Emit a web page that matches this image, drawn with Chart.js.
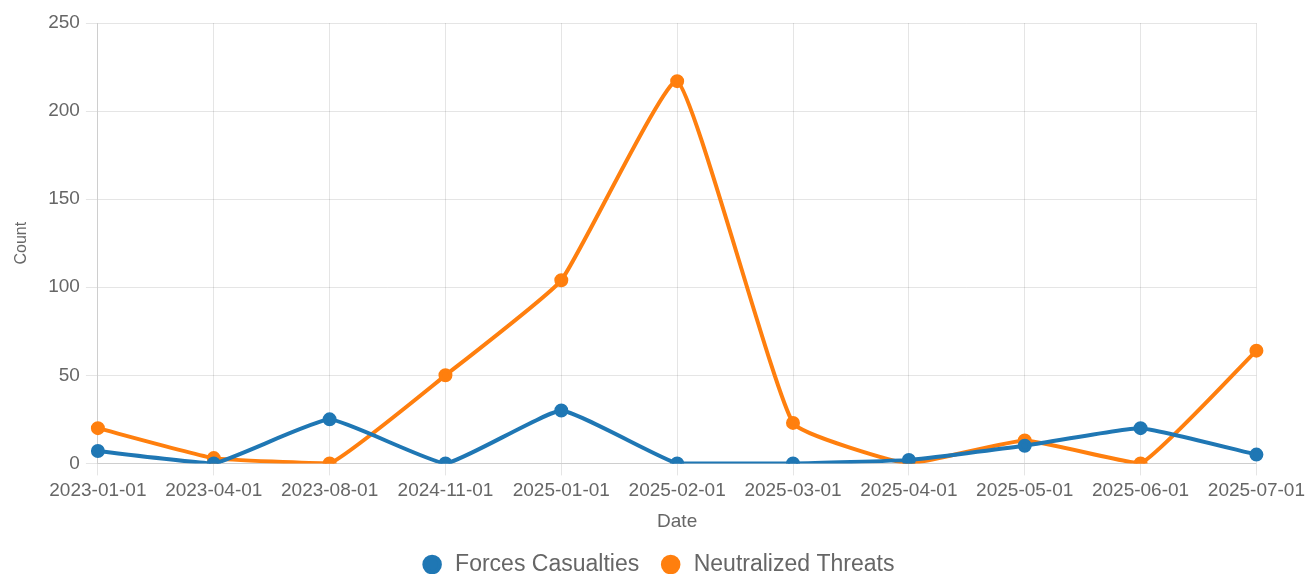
<!DOCTYPE html>
<html>
<head>
<meta charset="utf-8">
<script src="https://cdn.jsdelivr.net/npm/chart.js@4.4.0/dist/chart.umd.min.js"></script>
<style>
  html, body { margin: 0; padding: 0; background: #fff; }
  #wrap { width: 1309px; height: 574px; }
</style>
</head>
<body>
<div id="wrap"><canvas id="myChart"></canvas></div>
<script>
  const dates = ['2023-01-01', '2023-04-01', '2023-08-01', '2024-11-01', '2025-01-01', '2025-02-01',
    '2025-03-01', '2025-04-01', '2025-05-01', '2025-06-01', '2025-07-01'];
  const casualties = [7, 0, 25, 0, 30, 0, 0, 2, 10, 20, 5];
  const threats = [20, 3, 0, 50, 104, 217, 23, 0, 13, 0, 64];
  const yTicks = [0, 50, 100, 150, 200, 250];

  Chart.defaults.font.family = 'Arial, "Liberation Sans", sans-serif';
  Chart.defaults.color = '#666';

  let ctx = document.getElementById('myChart').getContext('2d');
  let chart = new Chart(ctx, {
    type: 'line',
    data: {
      labels: dates,
      datasets: [{
        label: 'Forces Casualties',
        data: casualties,
        borderColor: '#1f77b4',
        backgroundColor: '#1f77b4',
        borderWidth: 4,
        pointRadius: 5,
        tension: 0.12
      }, {
        label: 'Neutralized Threats',
        data: threats,
        borderColor: '#ff7f0e',
        backgroundColor: '#ff7f0e',
        borderWidth: 4,
        pointRadius: 5,
        tension: 0.12
      }]
    },
    options: {
      responsive: true,
      maintainAspectRatio: false,
      animation: false,
      layout: { padding: { top: 23, right: 2, left: 8, bottom: -12 } },
      plugins: {
        legend: {
          position: 'bottom',
          labels: { usePointStyle: true, pointStyle: 'circle', font: { size: 23 }, boxWidth: 28, boxHeight: 11, padding: 20 }
        }
      },
      scales: {
        x: {
          title: { display: true, text: 'Date', font: { size: 19 }, padding: { top: 4, bottom: 0 } },
          grid: { tickLength: 12 },
          ticks: { font: { size: 19 }, maxRotation: 0, padding: 4 }
        },
        y: {
          min: yTicks[0], max: yTicks[yTicks.length - 1],
          title: { display: true, text: 'Count', font: { size: 16 }, padding: { top: 4, bottom: 11 } },
          grid: { tickLength: 12 },
          afterBuildTicks: (axis) => { axis.ticks = yTicks.map(v => ({ value: v })); },
          ticks: { font: { size: 19 }, padding: 6 }
        }
      }
    }
  });
</script>
</body>
</html>
